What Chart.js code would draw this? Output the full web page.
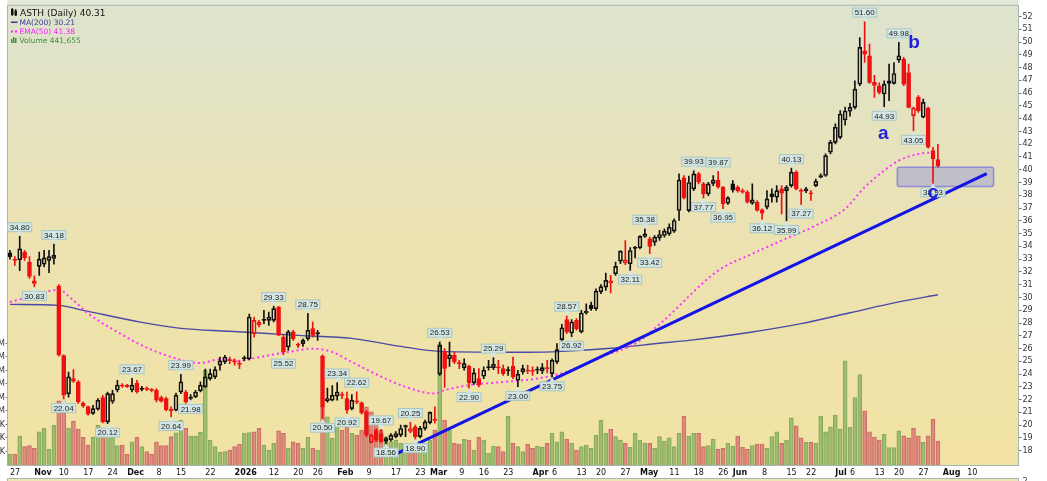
<!DOCTYPE html>
<html>
<head>
<meta charset="utf-8">
<title>ASTH (Daily)</title>
<script src="https://cdn.jsdelivr.net/npm/chart.js@4.4.1/dist/chart.umd.min.js"></script>
<style>
  html, body { margin: 0; padding: 0; background: #fff; }
  #wrap { width: 1047px; height: 481px; position: relative; }
</style>
</head>
<body>
<div id="wrap"><canvas id="chart"></canvas></div>
<script>
// daily bars, Oct 27 2025 .. Jul 31 2026
const open = [
  33.50, 33.00, 32.95, 33.55, 32.77, 31.30, 32.43, 32.60, 32.90, 33.05,
  30.90, 25.45, 22.45, 23.65, 23.40, 21.70, 21.45, 20.92, 21.25, 22.16,
  20.26, 21.85, 22.75, 23.10, 23.06, 22.75, 23.30, 22.80, 22.90, 22.78,
  22.73, 22.15, 22.08, 21.25, 21.17, 22.60, 22.60, 22.20, 22.21, 22.68,
  23.00, 23.65, 23.78, 24.69, 24.95, 25.12, 25.00, 24.82, 25.25, 25.20,
  27.17, 27.85, 28.25, 28.21, 28.21, 29.25, 26.90, 26.12, 27.30, 26.30,
  26.38, 26.77, 27.56, 27.20, 25.40, 21.90, 21.95, 22.27, 22.40, 22.08,
  21.30, 21.90, 21.74, 21.04, 18.65, 19.60, 19.35, 18.75, 18.85, 19.10,
  19.22, 19.95, 19.50, 19.87, 19.10, 19.75, 20.20, 20.45, 24.00, 25.75,
  25.20, 25.47, 24.88, 24.50, 24.61, 23.31, 23.65, 23.83, 24.55, 24.50,
  24.55, 24.43, 24.30, 24.61, 23.52, 24.17, 24.30, 24.30, 24.35, 24.25,
  24.48, 24.04, 24.95, 26.70, 28.26, 27.22, 28.21, 27.30, 28.78, 29.40,
  29.12, 30.45, 30.81, 31.13, 31.86, 32.85, 32.70, 32.64, 33.85, 33.89,
  34.78, 34.60, 34.33, 34.67, 34.85, 34.98, 35.19, 36.81, 39.36, 36.80,
  38.50, 39.68, 38.89, 38.11, 38.94, 39.20, 38.63, 37.38, 38.89, 38.63,
  38.37, 38.24, 37.38, 37.46, 36.86, 37.07, 38.11, 37.85, 38.50, 38.37,
  38.76, 39.81, 38.35, 38.50, 38.15, 38.76, 39.55, 39.55, 41.37, 42.15,
  42.54, 43.90, 44.58, 44.89, 46.71, 49.32, 48.93, 46.85, 46.58, 45.93,
  46.97, 46.76, 48.59, 48.67, 47.62, 44.24, 45.67, 44.11, 44.84, 41.50,
  40.80
];
const high = [
  33.70, 33.20, 34.80, 33.70, 33.20, 31.70, 33.55, 33.70, 33.70, 34.18,
  31.00, 25.50, 24.15, 24.35, 23.50, 21.82, 21.50, 21.56, 22.08, 22.34,
  22.60, 22.73, 23.52, 23.25, 23.20, 23.67, 23.52, 23.05, 23.00, 22.86,
  22.86, 22.27, 22.20, 21.43, 22.52, 23.99, 22.73, 22.40, 22.73, 23.39,
  24.40, 24.40, 24.56, 25.34, 25.47, 25.34, 25.20, 25.03, 25.40, 28.70,
  28.47, 28.20, 29.00, 28.86, 29.33, 29.30, 27.04, 27.43, 27.43, 26.43,
  26.77, 28.75, 28.08, 27.43, 25.50, 22.90, 23.10, 23.34, 22.60, 22.60,
  22.40, 22.62, 21.82, 21.17, 19.30, 19.73, 19.67, 19.05, 19.35, 19.50,
  20.00, 20.00, 20.25, 20.00, 19.90, 20.40, 21.05, 21.43, 26.53, 26.00,
  26.50, 25.73, 25.08, 25.20, 24.70, 24.43, 24.43, 24.56, 25.08, 25.29,
  25.08, 24.70, 24.56, 25.34, 24.30, 24.70, 24.70, 24.56, 24.56, 24.82,
  25.08, 25.20, 26.38, 27.90, 28.57, 28.26, 28.34, 28.99, 29.50, 29.64,
  30.68, 31.00, 31.91, 31.73, 32.77, 33.68, 34.46, 33.90, 34.00, 34.85,
  35.38, 34.72, 34.85, 35.25, 35.37, 35.77, 36.16, 39.68, 39.55, 39.50,
  39.93, 39.80, 39.02, 39.02, 39.55, 39.87, 38.70, 37.90, 39.15, 38.76,
  38.50, 38.37, 38.89, 37.59, 36.95, 38.37, 38.50, 38.76, 38.76, 38.76,
  40.13, 39.94, 38.50, 38.63, 38.37, 39.28, 39.68, 41.24, 42.30, 43.59,
  44.63, 44.90, 45.20, 46.97, 50.36, 51.60, 49.84, 47.40, 46.80, 46.97,
  48.28, 48.40, 49.98, 48.80, 48.28, 44.90, 45.80, 45.54, 44.90, 41.76,
  42.00
];
const low = [
  33.00, 32.50, 32.10, 32.90, 31.50, 30.83, 31.73, 32.40, 31.95, 32.60,
  25.40, 22.04, 22.20, 23.35, 21.70, 21.38, 20.78, 20.85, 21.17, 20.18,
  20.12, 21.70, 22.60, 22.95, 22.95, 22.60, 22.50, 22.68, 22.70, 22.60,
  21.82, 21.80, 21.12, 20.64, 21.12, 22.47, 21.70, 21.98, 22.16, 22.60,
  22.95, 23.52, 23.65, 24.30, 24.82, 24.82, 24.69, 24.43, 25.05, 25.10,
  26.90, 27.70, 27.95, 27.82, 28.08, 27.00, 25.52, 25.86, 26.64, 26.07,
  26.17, 26.64, 26.90, 26.64, 20.50, 21.80, 21.90, 21.95, 22.08, 20.92,
  21.20, 21.68, 20.86, 19.10, 18.60, 18.70, 18.65, 18.56, 18.75, 19.00,
  19.10, 19.10, 19.40, 18.90, 19.00, 19.60, 20.10, 20.15, 23.90, 22.95,
  24.60, 24.82, 24.43, 24.30, 22.90, 23.20, 23.00, 23.65, 24.30, 24.35,
  24.04, 23.90, 23.90, 23.65, 23.00, 24.00, 24.04, 23.90, 24.04, 24.04,
  24.10, 23.75, 24.82, 26.50, 27.17, 26.92, 27.43, 27.22, 28.70, 28.99,
  28.99, 30.30, 30.56, 30.35, 31.73, 32.64, 32.56, 32.11, 33.10, 33.80,
  34.70, 33.42, 34.07, 34.46, 34.72, 34.85, 35.10, 36.03, 37.72, 36.70,
  38.37, 38.89, 37.77, 37.98, 38.76, 38.55, 36.95, 37.28, 38.24, 38.24,
  38.16, 37.38, 37.28, 36.76, 36.12, 36.94, 37.46, 37.46, 36.55, 35.99,
  38.63, 38.42, 37.27, 38.20, 37.59, 38.68, 39.36, 39.47, 41.24, 42.02,
  42.41, 43.50, 44.20, 44.76, 46.58, 48.40, 46.76, 45.67, 45.93, 44.93,
  45.41, 46.70, 48.40, 46.58, 44.84, 43.05, 44.50, 44.06, 41.70, 38.93,
  40.20
];
const close = [
  33.20, 32.90, 33.81, 33.11, 31.65, 31.10, 33.00, 33.10, 33.20, 33.30,
  25.50, 22.35, 23.78, 23.45, 21.82, 21.50, 20.86, 21.30, 21.95, 20.26,
  22.47, 22.47, 23.13, 23.05, 23.02, 23.13, 22.60, 22.86, 22.80, 22.72,
  21.95, 21.87, 21.22, 21.12, 22.34, 23.39, 21.82, 22.10, 22.60, 23.13,
  23.78, 24.04, 24.35, 25.03, 25.34, 25.05, 24.94, 24.75, 25.20, 28.47,
  28.21, 28.08, 28.20, 28.47, 29.12, 27.04, 25.73, 27.30, 26.77, 26.25,
  26.64, 27.43, 27.04, 27.15, 21.43, 22.08, 22.34, 22.60, 22.32, 21.17,
  21.95, 21.80, 20.96, 19.22, 19.20, 18.83, 18.70, 18.95, 19.22, 19.35,
  19.74, 19.87, 19.74, 19.09, 19.75, 20.26, 21.00, 20.38, 26.25, 24.45,
  25.50, 24.95, 24.80, 24.82, 23.31, 24.09, 23.13, 24.30, 24.50, 24.77,
  24.48, 24.04, 24.25, 23.78, 24.00, 24.43, 24.22, 24.20, 24.30, 24.50,
  24.42, 25.08, 25.92, 27.63, 27.30, 28.08, 27.56, 28.78, 28.94, 29.12,
  30.50, 30.85, 31.34, 31.30, 32.43, 33.63, 32.95, 33.68, 33.90, 34.78,
  34.98, 34.00, 34.72, 34.93, 35.19, 35.50, 36.03, 39.20, 37.80, 39.00,
  39.68, 39.02, 38.11, 38.89, 39.20, 38.63, 37.33, 37.80, 38.42, 38.37,
  38.24, 37.46, 37.64, 36.81, 36.60, 37.72, 37.90, 38.37, 38.16, 38.63,
  39.81, 38.50, 38.30, 38.35, 38.10, 39.10, 39.42, 41.11, 42.15, 43.33,
  44.37, 44.60, 44.89, 46.32, 49.58, 49.06, 46.84, 46.60, 46.06, 46.71,
  46.76, 47.54, 48.93, 46.71, 44.89, 44.84, 44.63, 45.28, 41.76, 40.85,
  40.31
];
// volume in thousands of shares
const volumeK = [
  204, 200, 537, 340, 358, 309, 617, 679, 290, 735,
  1191, 1191, 679, 815, 667, 512, 370, 512, 735, 660,
  648, 512, 358, 370, 198, 432, 512, 340, 250, 198,
  432, 358, 358, 525, 599, 833, 679, 537, 537, 605,
  1759, 463, 340, 235, 247, 278, 340, 389, 590, 600,
  617, 679, 370, 278, 401, 636, 586, 309, 432, 401,
  309, 512, 309, 278, 1080, 895, 494, 802, 648, 710,
  586, 556, 648, 1080, 988, 772, 648, 525, 432, 463,
  401, 340, 370, 370, 309, 401, 463, 648, 2250, 833,
  648, 401, 389, 475, 463, 278, 512, 463, 216, 352,
  340, 247, 907, 401, 340, 247, 389, 309, 352, 327,
  401, 586, 432, 617, 475, 401, 278, 340, 370, 309,
  556, 833, 586, 660, 525, 463, 401, 327, 586, 463,
  401, 401, 309, 525, 444, 506, 340, 586, 907, 537,
  586, 586, 340, 358, 475, 290, 309, 401, 352, 537,
  327, 290, 358, 389, 389, 309, 525, 617, 401, 463,
  877, 728, 506, 420, 420, 401, 907, 617, 710, 926,
  667, 1932, 698, 1253, 1679, 1006, 617, 512, 463, 568,
  321, 321, 636, 543, 506, 679, 543, 420, 543, 846,
  441.655
];
const prevClose = 33.0;

// MA(200) and EMA(50) read at some bars
const maIdx = [0, 10, 15, 27, 35, 45, 59, 70, 80, 88, 106, 113, 123, 133, 139, 152, 162, 172, 182, 190];
const maVal = [29.46, 29.38, 28.99, 28.05, 27.58, 27.35, 27.03, 26.80, 26.17, 25.78, 25.71, 25.78, 26.02, 26.41, 26.64, 27.30, 27.95, 28.80, 29.65, 30.21];
const emaIdx = [0, 5, 10, 13, 16, 22, 27, 33, 39, 43, 47, 50, 57, 62, 66, 70, 76, 81, 87, 89, 94, 101, 108, 115, 121, 128, 133, 145, 152, 158, 165, 171, 175, 179, 182, 186, 190];
const emaVal = [29.64, 30.16, 30.60, 29.77, 28.75, 27.30, 26.25, 25.34, 24.87, 25.15, 25.05, 25.25, 25.73, 25.99, 25.73, 24.95, 23.80, 23.00, 22.48, 22.74, 23.13, 23.38, 23.65, 24.30, 25.34, 26.38, 27.90, 32.10, 33.42, 34.46, 35.64, 36.94, 38.63, 39.94, 40.72, 41.24, 41.38];

// x axis: trading days, and the bar each tick label sits on in the picture
const holidays = ['2025-11-27', '2025-12-25', '2026-01-01', '2026-01-19', '2026-02-16', '2026-04-03', '2026-05-25', '2026-06-19', '2026-07-03'];
const tickIdx  = [0, 5, 10, 15, 20, 24, 30, 34, 40, 46, 53, 58, 62, 67, 73, 78, 83, 86, 92, 96, 101, 107, 111, 116, 120, 125, 129, 135, 140, 145, 148, 154, 159, 163, 169, 172, 177, 181, 186, 191, 196];
const tickText = ['27', 'Nov', '10', '17', '24', 'Dec', '8', '15', '22', '2026', '12', '20', '26', 'Feb', '9', '17', '23', 'Mar', '9', '16', '23', 'Apr', '6', '13', '20', '27', 'May', '11', '18', '26', 'Jun', '8', '15', '22', 'Jul', '6', '13', '20', '27', 'Aug', '10'];
const boldTicks = ['Nov', 'Dec', '2026', 'Feb', 'Mar', 'Apr', 'May', 'Jun', 'Jul', 'Aug'];

// labelled swing highs / lows
const calloutIdx  = [2, 5, 9, 11, 20, 25, 33, 35, 37, 54, 56, 61, 64, 67, 69, 71, 76, 77, 82, 83, 88, 94, 99, 104, 111, 114, 115, 127, 130, 131, 140, 142, 145, 146, 154, 159, 160, 162, 175, 179, 182, 185, 189];
const calloutSide = ['hi', 'lo', 'hi', 'lo', 'lo', 'hi', 'lo', 'hi', 'lo', 'hi', 'lo', 'hi', 'lo', 'hi', 'lo', 'hi', 'hi', 'lo', 'hi', 'lo', 'hi', 'lo', 'hi', 'lo', 'lo', 'hi', 'lo', 'lo', 'hi', 'lo', 'hi', 'lo', 'hi', 'lo', 'lo', 'lo', 'hi', 'lo', 'hi', 'lo', 'hi', 'lo', 'lo'];

// drawn trend line, support box and wave letters
const trendIdx = [78, 200];
const trendVal = [17.55, 39.70];
const boxIdx = [181.7, 201.4];
const boxVal = [38.68, 40.19];
const waveText = ['a', 'b', 'c'];
const waveIdx = [178.8, 185.1, 189.0];
const waveVal = [42.40, 49.55, 37.79];

function tradingDays(from, to, skip) {
  const out = [];
  const d = new Date(from + 'T00:00:00Z');
  const end = new Date(to + 'T00:00:00Z');
  while (d <= end) {
    const s = d.toISOString().slice(0, 10);
    const wd = d.getUTCDay();
    if (wd !== 0 && wd !== 6 && !skip.includes(s)) out.push(s);
    d.setUTCDate(d.getUTCDate() + 1);
  }
  return out;
}
const dates = tradingDays('2025-10-27', '2026-08-24', holidays);

const RED = '#ee1111', BLACK = '#111111', FRAME = '#a3b5b5';
const isUp = i => close[i] >= (i ? close[i - 1] : prevClose);
const candleColor = close.map((c, i) => isUp(i) ? BLACK : RED);
const bodyFill = close.map((c, i) => c < open[i] ? candleColor[i] : 'rgba(0,0,0,0)');
const volColor = close.map((c, i) => isUp(i) ? 'rgba(150,185,105,0.85)' : 'rgba(218,130,120,0.85)');
const volBorder = close.map((c, i) => isUp(i) ? '#88aa60' : '#cc6f66');

const bodyData = open.map((o, i) => [Math.min(o, close[i]), Math.max(o, close[i])]);
const upperWick = open.map((o, i) => [Math.max(o, close[i]), high[i]]);
const lowerWick = open.map((o, i) => [low[i], Math.min(o, close[i])]);
const volumeData = volumeK.map(v => v * 1000);
const pts = (idx, val) => idx.map((i, k) => ({ x: dates[i], y: val[k] }));

const background = {
  id: 'background',
  beforeDraw(chart) {
    const { ctx, chartArea: a, width, height } = chart;
    ctx.save();
    ctx.fillStyle = '#ffffff';
    ctx.fillRect(0, 0, width, height);
    ctx.fillStyle = '#e4e9d5';
    ctx.fillRect(a.left, 0, a.right - a.left, a.top);
    const g = ctx.createLinearGradient(0, a.top, 0, a.bottom);
    g.addColorStop(0, '#dde3cd');
    g.addColorStop(0.5, '#ece2b2');
    g.addColorStop(1, '#f2e3a3');
    ctx.fillStyle = g;
    ctx.fillRect(a.left, a.top, a.right - a.left, a.bottom - a.top);
    // next panel peeking in at the bottom
    ctx.fillStyle = '#efe5b4';
    ctx.fillRect(a.left, 478, a.right - a.left, height - 478);
    ctx.strokeStyle = FRAME;
    ctx.lineWidth = 1;
    ctx.beginPath();
    ctx.moveTo(a.left, 478.5); ctx.lineTo(a.right, 478.5);
    ctx.moveTo(a.left, a.top - 0.5); ctx.lineTo(a.right, a.top - 0.5);
    ctx.moveTo(a.left, 478); ctx.lineTo(a.left, height);
    ctx.moveTo(a.right, 478); ctx.lineTo(a.right, height);
    ctx.stroke();
    ctx.fillStyle = '#333';
    ctx.font = '8px "DejaVu Sans"';
    ctx.textBaseline = 'top';
    ctx.fillText('2', a.right + 4, 478);
    ctx.restore();
  }
};

const supportBox = {
  id: 'supportBox',
  beforeDatasetsDraw(chart) {
    const { ctx, scales: { x, y } } = chart;
    const x0 = x.getPixelForValue(boxIdx[0]), x1 = x.getPixelForValue(boxIdx[1]);
    const y0 = y.getPixelForValue(boxVal[1]), y1 = y.getPixelForValue(boxVal[0]);
    ctx.save();
    ctx.beginPath();
    ctx.roundRect(x0, y0, x1 - x0, y1 - y0, 2);
    ctx.fillStyle = 'rgba(178,176,206,0.72)';
    ctx.fill();
    ctx.strokeStyle = '#8c8cd8';
    ctx.lineWidth = 1.5;
    ctx.stroke();
    ctx.restore();
  }
};

const callouts = {
  id: 'callouts',
  afterDatasetsDraw(chart) {
    const { ctx, scales: { x, y } } = chart;
    ctx.save();
    ctx.font = '8px "Liberation Sans"';
    ctx.textAlign = 'center';
    ctx.textBaseline = 'middle';
    calloutIdx.forEach((i, k) => {
      const hi = calloutSide[k] === 'hi';
      const v = hi ? high[i] : low[i];
      const px = x.getPixelForValue(i);
      const py = y.getPixelForValue(v);
      const txt = v.toFixed(2);
      const w = Math.round(ctx.measureText(txt).width) + 4, h = 9, gap = 4.5;
      const top = hi ? py - gap - h : py + gap;
      const edge = hi ? top + h : top;
      ctx.fillStyle = '#d3e6e3';
      ctx.strokeStyle = '#a8c6c2';
      ctx.lineWidth = 1;
      ctx.fillRect(px - w / 2, top, w, h);
      ctx.strokeRect(px - w / 2, top, w, h);
      ctx.beginPath();
      ctx.moveTo(px - 3, edge);
      ctx.lineTo(px, py);
      ctx.lineTo(px + 3, edge);
      ctx.closePath();
      ctx.fill();
      ctx.fillStyle = '#222';
      ctx.fillText(txt, px, top + h / 2 + 0.5);
    });
    ctx.fillStyle = '#2020dd';
    ctx.font = 'bold 19px "Liberation Sans"';
    ctx.textBaseline = 'alphabetic';
    waveText.forEach((t, k) => {
      ctx.fillText(t, x.getPixelForValue(waveIdx[k]), y.getPixelForValue(waveVal[k]));
    });
    ctx.restore();
  }
};

const legendBox = {
  id: 'legendBox',
  afterDraw(chart) {
    const { ctx } = chart;
    const last = close.length - 1;
    ctx.save();
    ctx.textBaseline = 'alphabetic';
    ctx.textAlign = 'left';
    // candle glyph
    ctx.fillStyle = '#111';
    ctx.fillRect(11, 9, 2.5, 6); ctx.fillRect(14.5, 10.5, 2.5, 5);
    ctx.fillRect(11.7, 8, 1, 8); ctx.fillRect(15.2, 9, 1, 7);
    ctx.font = '9px "DejaVu Sans"';
    ctx.fillText('ASTH (Daily) ' + close[last].toFixed(2), 20, 15.7);
    ctx.font = '7.5px "DejaVu Sans"';
    ctx.fillStyle = '#3a3a9a';
    ctx.fillRect(11, 21.5, 6.5, 1.5);
    ctx.fillText('MA(200) ' + maVal[maVal.length - 1].toFixed(2), 19.5, 25.3);
    ctx.fillStyle = '#ff22ff';
    ctx.fillRect(11, 30.5, 2, 2); ctx.fillRect(15, 30.5, 2, 2);
    ctx.fillText('EMA(50) ' + emaVal[emaVal.length - 1].toFixed(2), 19.5, 34.4);
    ctx.fillStyle = '#3f8f3f';
    ctx.fillRect(11, 39, 1.5, 4); ctx.fillRect(13, 37, 1.5, 6); ctx.fillRect(15, 38, 1.5, 5);
    ctx.fillText('Volume ' + Math.round(volumeK[last] * 1000).toLocaleString('en-US'), 19.5, 43.4);
    ctx.restore();
  }
};

const tickLabel = i => { const k = tickIdx.indexOf(i); return k < 0 ? '' : tickText[k]; };

new Chart(document.getElementById('chart'), {
  data: {
    labels: dates,
    datasets: [
      {
        type: 'line', label: 'Trend', data: pts(trendIdx, trendVal),
        borderColor: '#1414e6', borderWidth: 3, pointRadius: 0, yAxisID: 'y', order: 0
      },
      {
        type: 'bar', label: 'Body', data: bodyData, yAxisID: 'y',
        backgroundColor: bodyFill, borderColor: candleColor, borderWidth: 1, borderSkipped: false,
        barThickness: 4, minBarLength: 1.2, grouped: false, order: 1
      },
      {
        type: 'bar', label: 'Upper wick', data: upperWick, yAxisID: 'y',
        backgroundColor: candleColor, borderWidth: 0, barThickness: 1, grouped: false, order: 2
      },
      {
        type: 'bar', label: 'Lower wick', data: lowerWick, yAxisID: 'y',
        backgroundColor: candleColor, borderWidth: 0, barThickness: 1, grouped: false, order: 2
      },
      {
        type: 'line', label: 'EMA(50)', data: pts(emaIdx, emaVal), yAxisID: 'y',
        borderColor: '#ff33ff', borderWidth: 2, borderDash: [2, 3], pointRadius: 0,
        cubicInterpolationMode: 'monotone', order: 3
      },
      {
        type: 'line', label: 'MA(200)', data: pts(maIdx, maVal), yAxisID: 'y',
        borderColor: '#4a4aa6', borderWidth: 1.4, pointRadius: 0,
        cubicInterpolationMode: 'monotone', order: 4
      },
      {
        type: 'bar', label: 'Volume', data: volumeData, yAxisID: 'v',
        backgroundColor: volColor, borderColor: volBorder, borderWidth: 1, borderSkipped: 'start',
        barThickness: 4, grouped: false, order: 5
      }
    ]
  },
  options: {
    responsive: true,
    maintainAspectRatio: false,
    animation: false,
    events: [],
    layout: { padding: { top: 5, right: 0, bottom: 0, left: 0 }, autoPadding: false },
    plugins: { legend: { display: false }, tooltip: { enabled: false } },
    scales: {
      x: {
        type: 'category',
        offset: true,
        grid: { display: false, drawTicks: false },
        border: { display: true, color: FRAME },
        ticks: {
          autoSkip: false, maxRotation: 0, minRotation: 0, align: 'start', padding: 3,
          color: '#111',
          font: c => ({ family: 'DejaVu Sans', size: 8, weight: boldTicks.includes(tickLabel(c.index)) ? 'bold' : 'normal' }),
          callback: (v, i) => tickLabel(i)
        },
        afterFit: s => { s.height = 16; }
      },
      y: {
        position: 'right',
        min: 16.88, max: 52.84,
        grid: { display: true, drawOnChartArea: false, drawTicks: true, tickLength: 3, color: '#777' },
        border: { display: true, color: FRAME },
        ticks: { stepSize: 1, includeBounds: false, padding: 1, color: '#333', font: { family: 'DejaVu Sans', size: 8 } },
        afterBuildTicks: s => { s.ticks = s.ticks.filter(t => t.value >= 18 && t.value <= 52); },
        afterFit: s => { s.width = 28.5; }
      },
      v: {
        position: 'left',
        min: 0, max: 8519000,
        grid: { display: true, drawOnChartArea: false, drawTicks: true, tickLength: 2, color: '#777' },
        border: { display: true, color: FRAME },
        ticks: {
          stepSize: 250000, padding: 0.5, color: '#333', font: { family: 'DejaVu Sans', size: 8 },
          callback: v => v >= 1e6 ? (v / 1e6) + 'M' : (v / 1e3) + 'K'
        },
        afterBuildTicks: s => { s.ticks = s.ticks.filter(t => t.value > 0 && t.value <= 2500000); },
        afterFit: s => { s.width = 7.5; }
      }
    }
  },
  plugins: [background, supportBox, callouts, legendBox]
});
</script>
</body>
</html>
